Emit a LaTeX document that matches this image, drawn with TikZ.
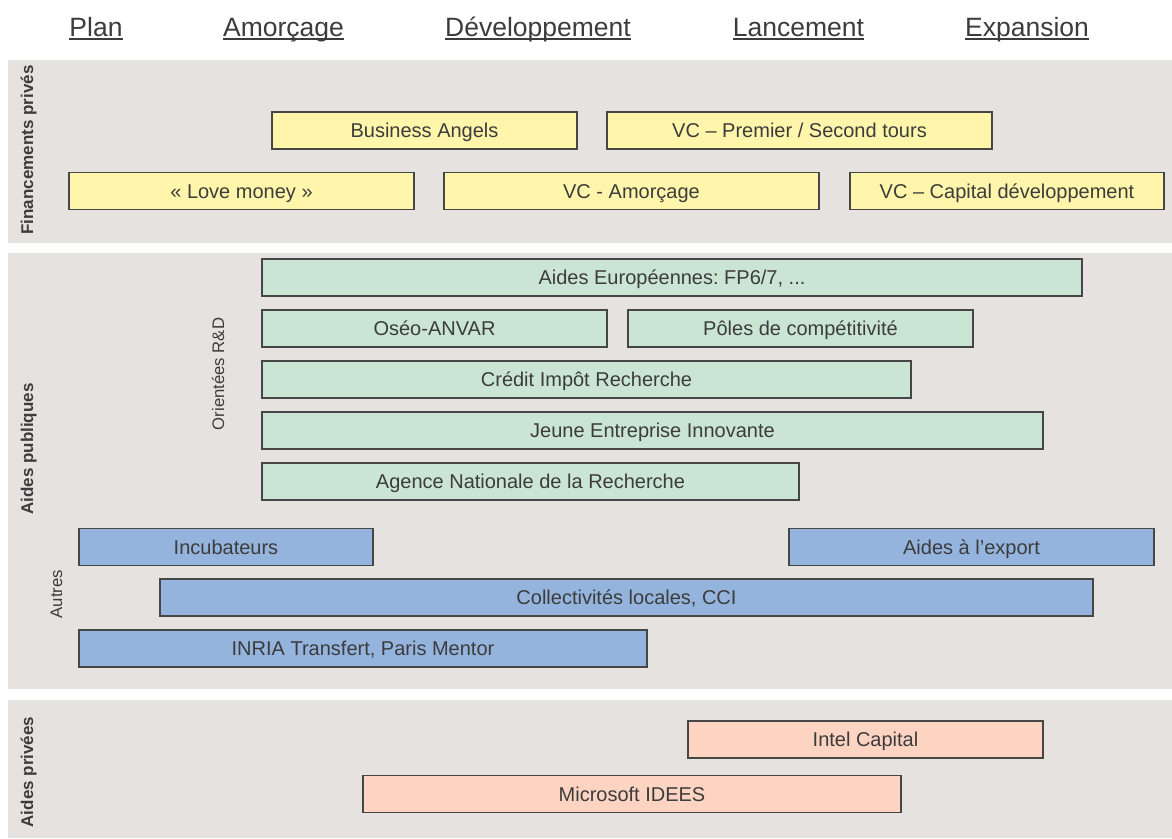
\documentclass[tikz,border=0pt]{standalone}
\usepackage{fontspec}
\setmainfont{Liberation Sans}
\usetikzlibrary{positioning}
\frenchspacing

\definecolor{panelgray}{RGB}{230,226,223}
\definecolor{inkgray}{RGB}{60,60,60}
\definecolor{barline}{RGB}{70,70,70}
\definecolor{fillyellow}{RGB}{255,246,171}
\definecolor{fillgreen}{RGB}{203,229,213}
\definecolor{fillblue}{RGB}{148,180,222}
\definecolor{fillpink}{RGB}{253,211,193}

\tikzset{
  panel/.style={fill=panelgray},
  bar/.style={draw=barline, line width=1.2pt, inner sep=0pt, minimum height=37pt,
    text height=14.3pt, text depth=0pt,
    text=inkgray, font=\fontsize{20}{24}\selectfont},
  yellowbar/.style={bar, fill=fillyellow},
  greenbar/.style={bar, fill=fillgreen},
  bluebar/.style={bar, fill=fillblue},
  pinkbar/.style={bar, fill=fillpink},
  phase/.style={inner sep=0pt, anchor=base, text=inkgray, font=\fontsize{26.5}{30}\selectfont},
  phaseline/.style={draw=inkgray, line width=1.8pt},
  sidelabel/.style={rotate=90, inner sep=0pt, text height=12.2pt, text depth=0pt,
    text=inkgray, font=\fontsize{17}{20}\selectfont\bfseries},
  sublabel/.style={rotate=90, inner sep=0pt, text height=12pt, text depth=0pt,
    text=inkgray, font=\fontsize{16.7}{20}\selectfont},
}

\begin{document}
\begin{tikzpicture}[x=1pt, y=-1pt]

\useasboundingbox (0,0) rectangle (1172,838);

%% phases
\node[phase] (plan) at (96,36) {Plan};
\node[phase] (amorcage) at (283.5,36) {Amorçage};
\node[phase] (developpement) at (538,36) {Développement};
\node[phase] (lancement) at (798.5,36) {Lancement};
\node[phase] (expansion) at (1027,36) {Expansion};

\foreach \p in {plan,amorcage,developpement,lancement,expansion}
  \draw[phaseline] ([yshift=-3pt]\p.base west) -- ([yshift=-3pt]\p.base east);

%% panels
\fill[panel] (8,60) rectangle (1172,243);
\fill[panel] (8,253) rectangle (1172,689);
\fill[panel] (8,700) rectangle (1172,838);

\node[sidelabel] (finpriv) at (27,150) {Financements privés};
\node[sidelabel] (aidpub) at (27,449) {Aides publiques};
\node[sidelabel] (aidpriv) at (27,772) {Aides privées};
\node[sublabel] (rd) at (218,374) {Orientées R\&D};
\node[sublabel] (autres) at (56,594) {Autres};

%% financements prives
\node[yellowbar, minimum width=305pt] (angels) at (424.5,130.5) {Business Angels};
\node[yellowbar, minimum width=385pt] (vctours) at (799.5,130.5) {VC – Premier / Second tours};
\node[yellowbar, minimum width=345pt] (love) at (241.5,191) {« Love money »};
\node[yellowbar, minimum width=375pt] (vcamorce) at (631.5,191) {VC - Amorçage};
\node[yellowbar, minimum width=314pt] (vccapital) at (1007,191) {VC – Capital développement};

%% aides publiques, R&D
\node[greenbar, minimum width=820pt] (europe) at (672,277.5) {Aides Européennes: FP6/7, ...};
\node[greenbar, minimum width=345pt] (oseo) at (434.5,328.5) {Oséo-ANVAR};
\node[greenbar, minimum width=345pt] (poles) at (800.5,328.5) {Pôles de compétitivité};
\node[greenbar, minimum width=649pt] (cir) at (586.5,379.5) {Crédit Impôt Recherche};
\node[greenbar, minimum width=781pt] (jei) at (652.5,430.5) {Jeune Entreprise Innovante};
\node[greenbar, minimum width=537pt] (anr) at (530.5,481.5) {Agence Nationale de la Recherche};

%% aides publiques, autres
\node[bluebar, minimum width=294pt] (incub) at (226,547) {Incubateurs};
\node[bluebar, minimum width=365pt] (export) at (971.5,547) {Aides à l’export};
\node[bluebar, minimum width=933pt] (collect) at (626.5,597.5) {Collectivités locales, CCI};
\node[bluebar, minimum width=568pt] (inria) at (363,648.5) {INRIA Transfert, Paris Mentor};

%% aides privees
\node[pinkbar, minimum width=355pt] (intel) at (865.5,739.5) {Intel Capital};
\node[pinkbar, minimum width=538pt] (microsoft) at (632,794) {Microsoft IDEES};

\end{tikzpicture}
\end{document}
